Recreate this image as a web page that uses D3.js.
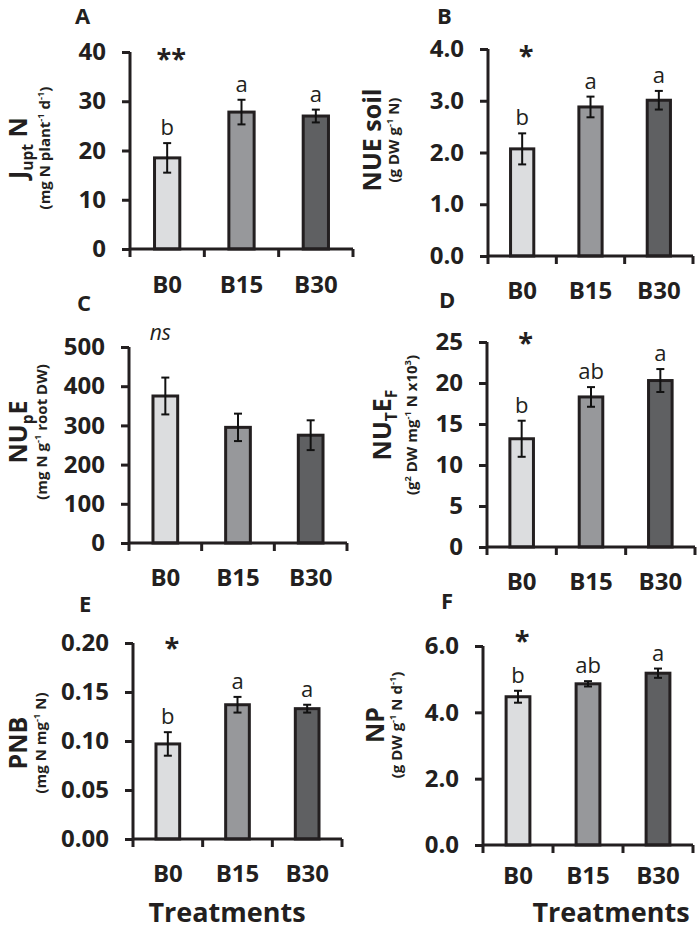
<!DOCTYPE html>
<html><head><meta charset="utf-8">
<title>N uptake and use efficiency by treatment</title>
<script src="https://d3js.org/d3.v7.min.js"></script>
<style>
  body { margin: 0; background: #fff; }
  text { font-family: "Open Sans", sans-serif; fill: #231f20; }
</style>
</head>
<body>
<svg width="697" height="930"></svg>
<script>
// treatments and bar fills
const treatments = ["B0", "B15", "B30"];
const barColors = ["#dcdddf", "#97989b", "#5f6062"];

// A: J upt N
const juptN = [18.5, 27.8, 27.0];
const juptNErr = [3.0, 2.5, 1.3];
const juptNLetters = ["b", "a", "a"];
const juptNTicks = [0, 10, 20, 30, 40];

// B: NUE soil
const nueSoil = [2.07, 2.88, 3.01];
const nueSoilErr = [0.30, 0.20, 0.18];
const nueSoilLetters = ["b", "a", "a"];
const nueSoilTicks = [0, 1, 2, 3, 4];

// C: NUpE
const nupE = [375, 295, 275];
const nupEErr = [47, 35, 38];
const nupELetters = ["", "", ""];
const nupETicks = [0, 100, 200, 300, 400, 500];

// D: NUTEF
const nutE = [13.2, 18.3, 20.3];
const nutEErr = [2.2, 1.2, 1.4];
const nutELetters = ["b", "ab", "a"];
const nutETicks = [0, 5, 10, 15, 20, 25];

// E: PNB
const pnb = [0.097, 0.137, 0.133];
const pnbErr = [0.012, 0.008, 0.004];
const pnbLetters = ["b", "a", "a"];
const pnbTicks = [0, 0.05, 0.10, 0.15, 0.20];

// F: NP
const np = [4.47, 4.86, 5.18];
const npErr = [0.18, 0.08, 0.14];
const npLetters = ["b", "ab", "a"];
const npTicks = [0, 2, 4, 6];

const panels = [
  {id: "A", values: juptN, err: juptNErr, letters: juptNLetters, ticks: juptNTicks, fmt: "d", sig: "**",
   label: [["J"], ["upt", "sub"], [" N"]],
   unit: [["(mg N plant"], ["-1", "sup"], [" d"], ["-1", "sup"], [")"]],
   x0: 130, x1: 353, yTop: 52, yBot: 249, labelX: 18, unitX: 45, labelY: 148, letterX: 75, letterY: 24, sigDy: 16, catDy: 44},
  {id: "B", values: nueSoil, err: nueSoilErr, letters: nueSoilLetters, ticks: nueSoilTicks, fmt: ".1f", sig: "*",
   label: [["NUE soil"]],
   unit: [["(g DW g"], ["-1", "sup"], [" N)"]],
   x0: 488, x1: 693, yTop: 49, yBot: 256, labelX: 372, unitX: 394, labelY: 140, letterX: 437, letterY: 24, sigDy: 16, catDy: 43},
  {id: "C", values: nupE, err: nupEErr, letters: nupELetters, ticks: nupETicks, fmt: "d", sig: "ns",
   label: [["NU"], ["p", "sub"], ["E"]],
   unit: [["(mg N g"], ["-1", "sup"], [" root DW)"]],
   x0: 129, x1: 347, yTop: 347, yBot: 543, labelX: 18, unitX: 42, labelY: 432, letterX: 77, letterY: 311, sigDy: -7, catDy: 43},
  {id: "D", values: nutE, err: nutEErr, letters: nutELetters, ticks: nutETicks, fmt: "d", sig: "*",
   label: [["NU"], ["T", "sub"], ["E"], ["F", "sub"]],
   unit: [["(g"], ["2", "sup"], [" DW mg"], ["-1", "sup"], [" N x10"], ["3", "sup"], [")"]],
   x0: 487, x1: 695, yTop: 342, yBot: 547, labelX: 382, unitX: 412, labelY: 425, letterX: 439, letterY: 308, sigDy: 10, catDy: 43},
  {id: "E", values: pnb, err: pnbErr, letters: pnbLetters, ticks: pnbTicks, fmt: ".2f", sig: "*",
   label: [["PNB"]],
   unit: [["(mg N mg"], ["-1", "sup"], [" N)"]],
   x0: 133, x1: 342, yTop: 643, yBot: 839, labelX: 18, unitX: 41, labelY: 743, letterX: 79, letterY: 612, sigDy: 14, catDy: 43,
   title: 227},
  {id: "F", values: np, err: npErr, letters: npLetters, ticks: npTicks, fmt: ".1f", sig: "*",
   label: [["NP"]],
   unit: [["(g DW g"], ["-1", "sup"], [" N d"], ["-1", "sup"], [")"]],
   x0: 483, x1: 693, yTop: 646, yBot: 845, labelX: 375, unitX: 397, labelY: 725, letterX: 441, letterY: 609, sigDy: 4, catDy: 39,
   title: 611}
];

const svg = d3.select("svg");

// writes text with sub/superscript pieces as tspans
function richText(sel, parts, fs) {
  let shift = 0;
  parts.forEach(([t, kind]) => {
    const target = kind === "sub" ? fs * 0.22 : kind === "sup" ? -fs * 0.4 : 0;
    sel.append("tspan")
      .attr("dy", target - shift)
      .style("font-size", (kind ? fs * 0.62 : fs) + "px")
      .text(t);
    shift = target;
  });
}

panels.forEach(p => {
  const g = svg.append("g");
  const x = d3.scaleBand().domain(treatments).range([p.x0, p.x1]);
  const y = d3.scaleLinear().domain([0, d3.max(p.ticks)]).range([p.yBot, p.yTop]);
  const bw = x.bandwidth() * 0.34;

  // bars
  g.selectAll("rect.bar")
    .data(p.values)
    .join("rect")
      .attr("x", (d, i) => x(treatments[i]) + x.bandwidth() / 2 - bw / 2)
      .attr("y", d => y(d))
      .attr("width", bw)
      .attr("height", d => y(0) - y(d))
      .attr("fill", (d, i) => barColors[i])
      .attr("stroke", "#231f20")
      .attr("stroke-width", 3);

  // error bars
  const eb = g.selectAll("g.err")
    .data(p.values)
    .join("g")
      .attr("transform", (d, i) => "translate(" + (x(treatments[i]) + x.bandwidth() / 2) + ",0)");
  eb.append("line")
    .attr("y1", (d, i) => y(d - p.err[i]))
    .attr("y2", (d, i) => y(d + p.err[i]))
    .attr("stroke", "#111").attr("stroke-width", 2);
  eb.selectAll("line.cap")
    .data((d, i) => [d - p.err[i], d + p.err[i]])
    .join("line")
      .attr("x1", -4).attr("x2", 4)
      .attr("y1", d => y(d)).attr("y2", d => y(d))
      .attr("stroke", "#111").attr("stroke-width", 2);

  // letters above bars
  g.selectAll("text.letter")
    .data(p.values)
    .join("text")
      .attr("x", (d, i) => x(treatments[i]) + x.bandwidth() / 2)
      .attr("y", (d, i) => y(d + p.err[i]) - 8)
      .attr("text-anchor", "middle")
      .style("font-size", "22px")
      .text((d, i) => p.letters[i]);

  // y axis
  const ya = g.append("g")
    .attr("transform", "translate(" + p.x0 + ",0)")
    .call(d3.axisLeft(y).tickValues(p.ticks).tickFormat(d3.format(p.fmt)).tickSize(8).tickPadding(16));
  ya.select(".domain").attr("d", "M0," + p.yTop + "V" + p.yBot);
  ya.selectAll("path, line").attr("stroke", "#231f20").attr("stroke-width", 3);
  ya.selectAll("text").style("font-size", "24px").style("font-weight", "700")
    .style("font-family", "'Open Sans', sans-serif").attr("fill", "#231f20");

  // x axis with ticks at band edges
  const edges = treatments.map(t => x(t)).concat([p.x1]);
  g.append("line")
    .attr("x1", p.x0).attr("x2", p.x1)
    .attr("y1", y(0)).attr("y2", y(0))
    .attr("stroke", "#231f20").attr("stroke-width", 3);
  g.selectAll("line.xtick")
    .data(edges)
    .join("line")
      .attr("x1", d => d).attr("x2", d => d)
      .attr("y1", y(0)).attr("y2", y(0) + 8)
      .attr("stroke", "#231f20").attr("stroke-width", 3);
  g.selectAll("text.cat")
    .data(treatments)
    .join("text")
      .attr("x", d => x(d) + x.bandwidth() / 2)
      .attr("y", y(0) + p.catDy)
      .attr("text-anchor", "middle")
      .style("font-size", "24px").style("font-weight", "700")
      .text(d => d);

  // y label and unit
  const lab = g.append("text")
    .attr("transform", "translate(" + p.labelX + "," + p.labelY + ") rotate(-90)")
    .attr("text-anchor", "middle")
    .attr("y", 9)
    .style("font-weight", "700");
  richText(lab, p.label, 25);
  const un = g.append("text")
    .attr("transform", "translate(" + p.unitX + "," + p.labelY + ") rotate(-90)")
    .attr("text-anchor", "middle")
    .attr("y", 5)
    .style("font-weight", "700");
  richText(un, p.unit, 15);

  // panel letter
  g.append("text")
    .attr("x", p.letterX).attr("y", p.letterY)
    .style("font-size", "22px").style("font-weight", "700")
    .text(p.id);

  // significance mark
  const sx = x(treatments[0]) + x.bandwidth() / 2;
  if (p.sig === "ns") {
    g.append("text")
      .attr("x", sx - 5).attr("y", p.yTop + p.sigDy)
      .attr("text-anchor", "middle")
      .style("font-size", "21px").style("font-style", "italic")
      .text(p.sig);
  } else {
    g.append("text")
      .attr("x", sx + 4).attr("y", p.yTop + p.sigDy)
      .attr("text-anchor", "middle")
      .style("font-size", "27px").style("font-weight", "700")
      .text(p.sig);
  }
});

// bottom titles
svg.selectAll("text.title")
  .data(panels.filter(d => d.title))
  .join("text")
    .attr("x", d => d.title)
    .attr("y", 922)
    .attr("text-anchor", "middle")
    .style("font-size", "27px").style("font-weight", "700")
    .text("Treatments");
</script>
</body></html>
